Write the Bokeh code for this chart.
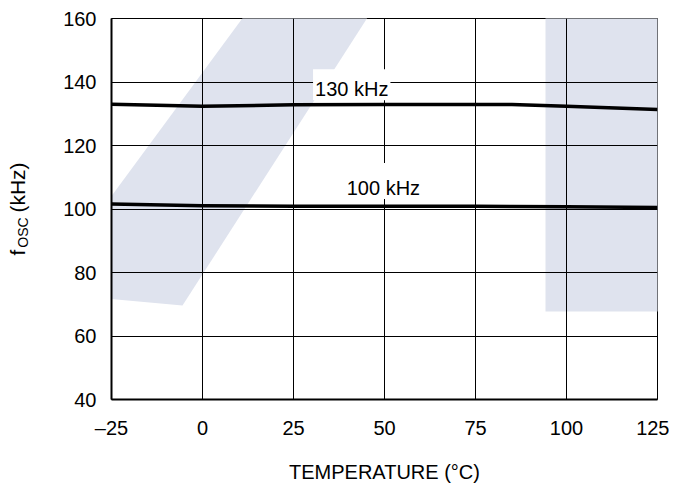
import math
from bokeh.plotting import figure
from bokeh.layouts import row
from bokeh.models import Range1d, Label, PolyAnnotation, FixedTicker
from bokeh.embed import file_html
from bokeh.resources import INLINE

# ---- data ----
temp_c = [-25, 0, 25, 50, 75, 85, 100, 125]
f_130khz = [133.0, 132.4, 132.8, 132.9, 132.9, 132.9, 132.4, 131.3]
f_100khz = [101.6, 101.0, 100.9, 100.9, 100.9, 100.8, 100.7, 100.5]
x_ticks = [-25, 0, 25, 50, 75, 100, 125]
x_tick_labels = ["\u201325", "0", "25", "50", "75", "100", "125"]
y_ticks = [40, 60, 80, 100, 120, 140, 160]
series_labels = ["130 kHz", "100 kHz"]
x_title = "TEMPERATURE (\u00b0C)"
y_title_main, y_title_sub, y_title_unit = "f", "OSC", "(kHz)"

FONT = "Liberation Sans"
WM = "#dfe3ee"
H = 485
LEFT_W = 60

# ---------- narrow strip holding the rotated y-axis title ----------
lt = figure(width=LEFT_W, height=H, output_backend="svg", toolbar_location=None,
            title=None, x_range=Range1d(0, LEFT_W), y_range=Range1d(0, H),
            x_axis_type=None, y_axis_type=None, min_border=0)
lt.outline_line_color = None
lt.background_fill_color = "white"
lt.border_fill_color = "white"
ang = math.pi / 2
for txt, cx, cy, fs in ((y_title_main, 17, 252, "21px"),
                        (y_title_sub, 22, 232, "14px"),
                        (y_title_unit, 17, 187, "21px")):
    lt.add_layout(Label(x=cx, y=cy, x_units="canvas", y_units="canvas", text=txt,
                        angle=ang, text_align="center", text_baseline="middle",
                        text_font=FONT, text_font_size=fs, text_color="black"))

# ---------- main chart ----------
p = figure(width=669 - LEFT_W, height=H, output_backend="svg", toolbar_location=None,
           title=None, x_range=Range1d(-25, 125), y_range=Range1d(40, 160),
           min_border_left=110 - LEFT_W, min_border_right=12, min_border_top=18,
           min_border_bottom=83)
p.background_fill_color = "white"
p.border_fill_color = "white"
p.outline_line_color = "black"
p.outline_line_width = 1

# watermark shapes (behind everything), canvas pixel units
band = PolyAnnotation(xs=[255 - LEFT_W, 378 - LEFT_W, 182 - LEFT_W, 40 - LEFT_W],
                      ys=[0, 0, 305, 292], xs_units="canvas", ys_units="canvas",
                      fill_color=WM, fill_alpha=1, line_color=None, level="image")
p.add_layout(band)
rect = PolyAnnotation(xs=[545 - LEFT_W, 670 - LEFT_W, 670 - LEFT_W, 545 - LEFT_W],
                      ys=[0, 0, 311, 311], xs_units="canvas", ys_units="canvas",
                      fill_color=WM, fill_alpha=1, line_color=None, level="image")
p.add_layout(rect)

# axes
for ax in (p.xaxis[0], p.yaxis[0]):
    ax.axis_line_width = 2
    ax.axis_line_color = "black"
    ax.major_tick_line_color = None
    ax.minor_tick_line_color = None
    ax.major_tick_out = 0
    ax.major_tick_in = 0
    ax.major_label_text_font = FONT
    ax.major_label_text_font_size = "20px"
    ax.major_label_text_color = "black"

p.xaxis.ticker = FixedTicker(ticks=x_ticks)
p.xaxis.major_label_overrides = {t: l for t, l in zip(x_ticks, x_tick_labels)}
p.xaxis.major_label_standoff = 17
p.xaxis.axis_label = x_title
p.xaxis.axis_label_text_font = FONT
p.xaxis.axis_label_text_font_size = "20px"
p.xaxis.axis_label_text_font_style = "normal"
p.xaxis.axis_label_text_color = "black"
p.xaxis.axis_label_standoff = 19

p.yaxis.ticker = FixedTicker(ticks=y_ticks)
p.yaxis.major_label_standoff = 15

p.xgrid.ticker = FixedTicker(ticks=x_ticks)
p.ygrid.ticker = FixedTicker(ticks=y_ticks)
for g in (p.xgrid[0], p.ygrid[0]):
    g.grid_line_color = "black"
    g.grid_line_alpha = 1
    g.grid_line_width = 1

# curves
p.line(temp_c, f_130khz, line_color="black", line_width=3.5, line_join="round")
p.line(temp_c, f_100khz, line_color="black", line_width=3.5, line_join="round")

# curve labels with white boxes
lab130 = Label(x=41, y=139.1, text=series_labels[0], text_align="center",
               text_baseline="alphabetic", text_font=FONT, text_font_size="20px",
               text_color="black", background_fill_color="white",
               padding=dict(left=2, right=2, top=9, bottom=0))
lab100 = Label(x=49.7, y=108.8, text=series_labels[1], text_align="center",
               text_baseline="alphabetic", text_font=FONT, text_font_size="20px",
               text_color="black", background_fill_color="white",
               padding=dict(left=2, right=2, top=14, bottom=0))
p.add_layout(lab130)
p.add_layout(lab100)

layout = row(lt, p, spacing=0)
open("out.html", "w").write(file_html(layout, INLINE))
